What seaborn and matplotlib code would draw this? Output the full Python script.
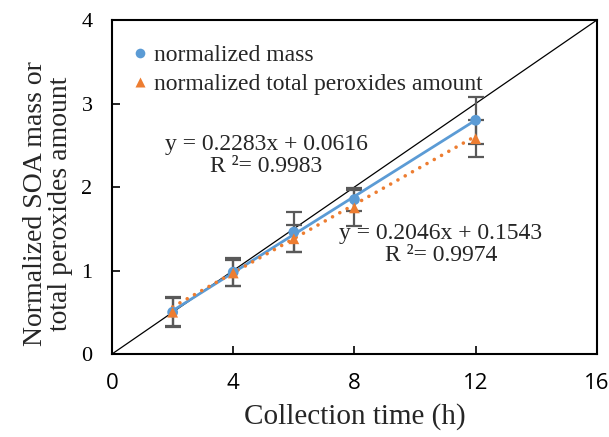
import numpy as np
import pandas as pd
import matplotlib
matplotlib.use("Agg")
import matplotlib.pyplot as plt
import seaborn as sns

# data
hours = [2, 4, 6, 8, 12]
mass = [0.50, 0.98, 1.46, 1.85, 2.80]
mass_err = [0.18, 0.17, 0.24, 0.14, 0.28]
perox = [0.50, 0.97, 1.38, 1.75, 2.58]
perox_err = [0.17, 0.15, 0.16, 0.22, 0.22]
fit_mass = (0.2283, 0.0616, 0.9983)
fit_perox = (0.2046, 0.1543, 0.9974)

BLUE = "#5B9BD5"
ORANGE = "#ED7D31"
GREY = "#595959"

sns.set_style("white")
plt.rcParams["font.family"] = ["Liberation Serif", "DejaVu Serif"]

fig = plt.figure(figsize=(6.09, 4.37), dpi=100)
ax = fig.add_axes([0.184, 0.190, 0.796, 0.764])

# 1:1 reference line
ax.plot([0, 16], [0, 4], color="black", lw=0.9, zorder=1)

df = pd.DataFrame({"t": hours + hours,
                   "v": mass + perox,
                   "s": ["normalized mass"] * 5 + ["normalized total peroxides amount"] * 5})

ax.errorbar(hours, mass, yerr=mass_err, fmt="none", ecolor=GREY, elinewidth=1.6,
            capsize=6, capthick=1.6, zorder=2)
ax.errorbar(hours, perox, yerr=perox_err, fmt="none", ecolor=GREY, elinewidth=1.6,
            capsize=6, capthick=1.6, zorder=2)

# trend lines
xs = np.array([hours[0], hours[-1]])
ax.plot(xs, fit_mass[0] * xs + fit_mass[1], color=BLUE, lw=2, zorder=3)
ax.plot(xs, fit_perox[0] * xs + fit_perox[1], color=ORANGE, lw=2.6,
        linestyle=(0, (0.01, 2.3)), dash_capstyle="round", zorder=3)

sns.scatterplot(data=df, x="t", y="v", hue="s", style="s",
                markers={"normalized mass": "o", "normalized total peroxides amount": "^"},
                palette={"normalized mass": BLUE, "normalized total peroxides amount": ORANGE},
                s=60, edgecolor="none", ax=ax, zorder=4)

ax.set_xlim(0, 16)
ax.set_ylim(0, 4)
ax.set_xticks([0, 4, 8, 12, 16])
ax.set_yticks([0, 1, 2, 3, 4])
ax.set_xticklabels([str(v) for v in [0, 4, 8, 12, 16]], family="Open Sans", fontsize=16)
ax.tick_params(direction="in", length=6, width=1.2, colors="black", left=True, bottom=True)
ax.tick_params(axis="y", labelsize=16, pad=14)
ax.tick_params(axis="x", pad=14)
for sp in ax.spines.values():
    sp.set_color("black")
    sp.set_linewidth(1.5)

ax.set_xlabel("Collection time (h)", fontsize=21, labelpad=6)
ax.set_ylabel("Normalized SOA mass or\ntotal peroxides amount", fontsize=20,
              linespacing=1.0, va="center")
ax.yaxis.set_label_coords(-0.132, 0.45)

ax.legend(loc="upper left", bbox_to_anchor=(-0.015, 0.99), frameon=False,
          fontsize=17, handletextpad=0.0, labelspacing=0.3, markerscale=0.9,
          handlelength=1.2)

ax.text(5.08, 2.38, "y = %.4fx + %.4f\nR ²= %.4f" % fit_mass, ha="center", va="center",
        fontsize=17, linespacing=1.1)
ax.text(10.85, 1.31, "y = %.4fx + %.4f\nR ²= %.4f" % fit_perox, ha="center", va="center",
        fontsize=17, linespacing=1.1)

fig.savefig("out.png", dpi=100)
